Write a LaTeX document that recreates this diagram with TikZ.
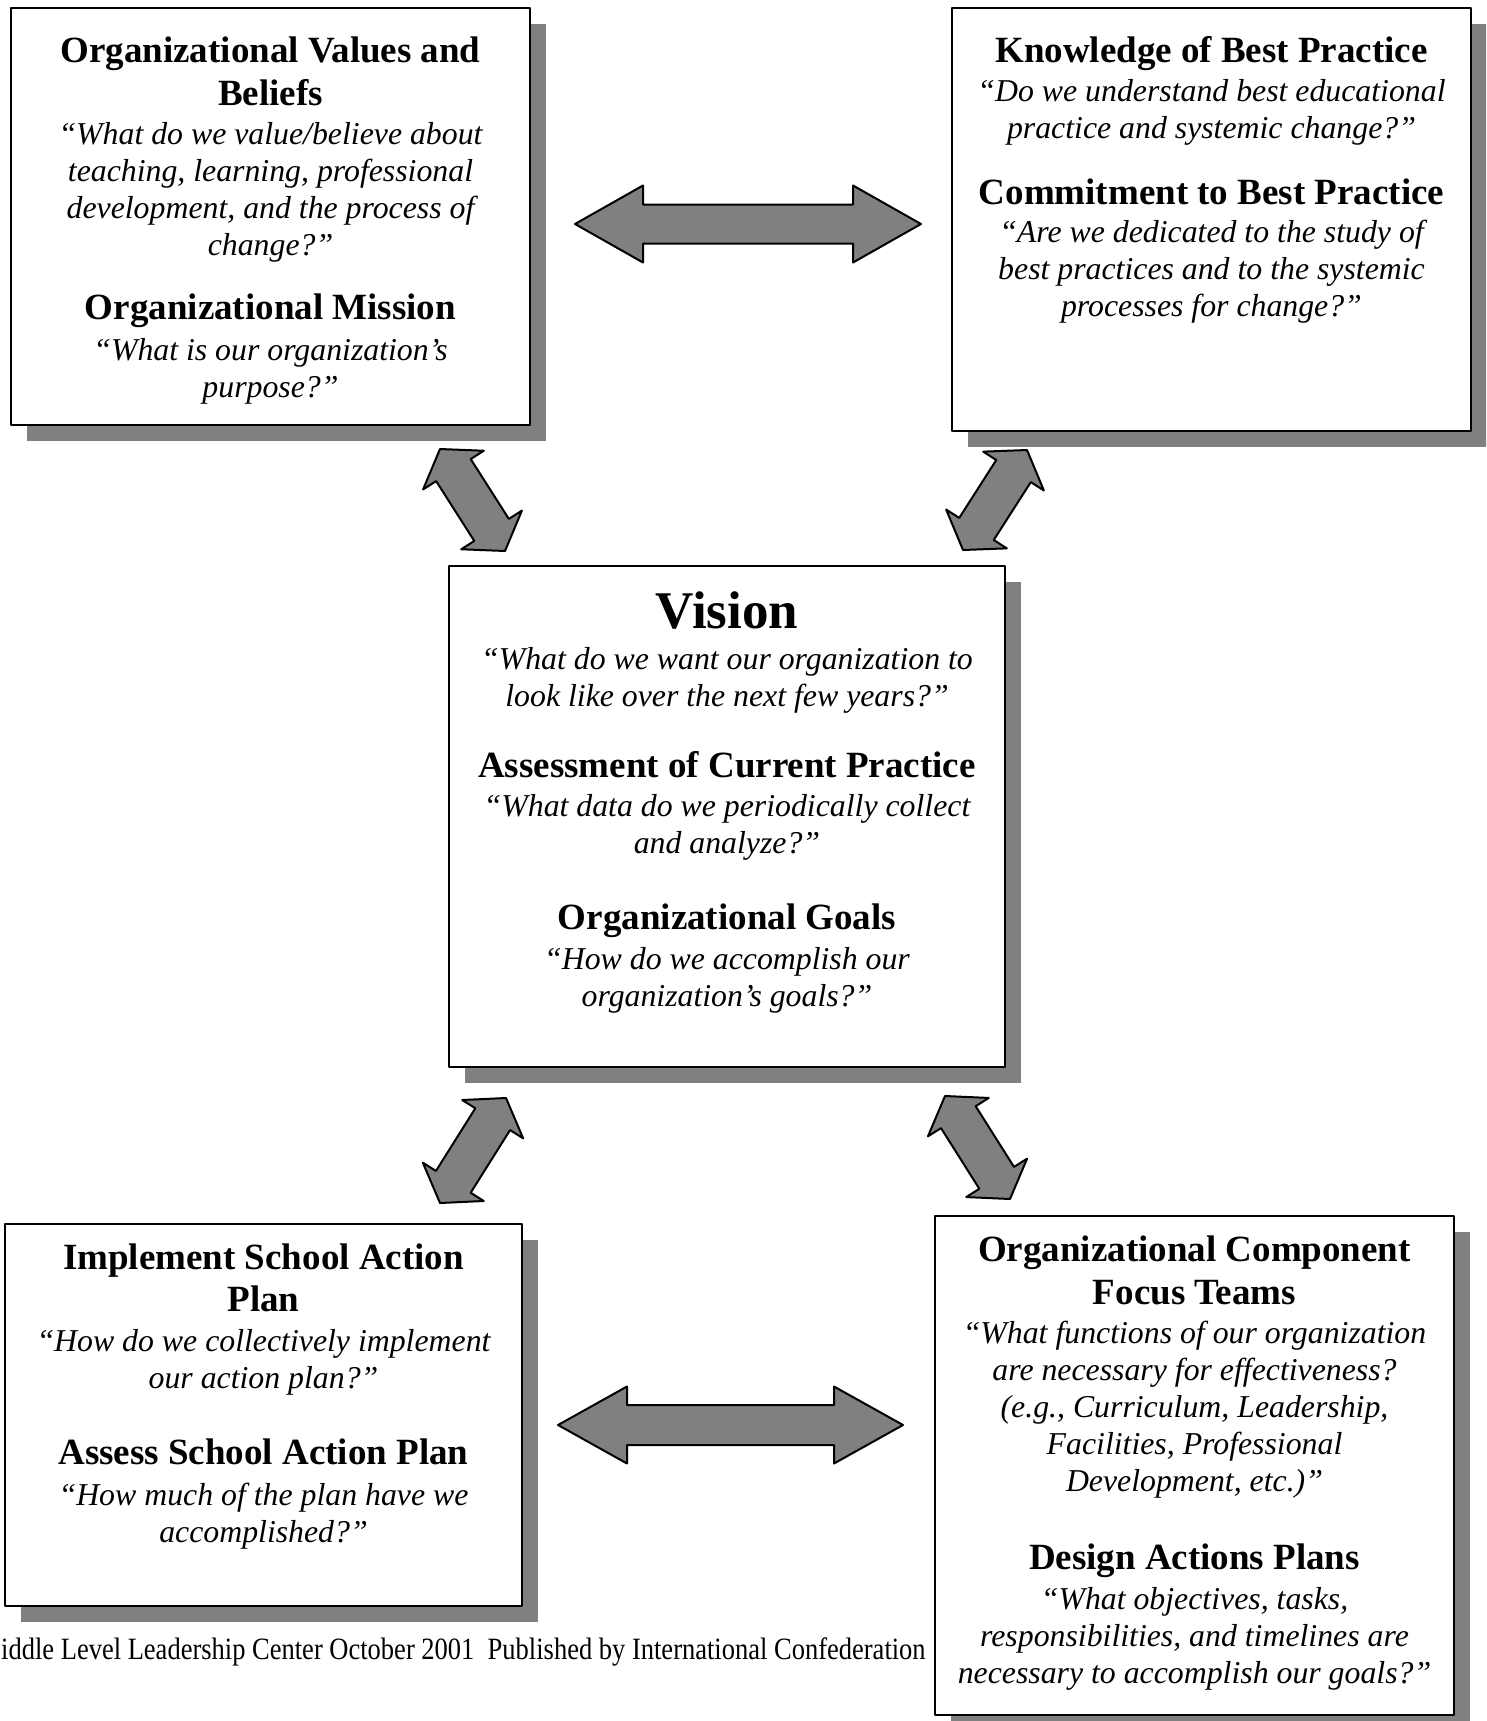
\documentclass[tikz,border=0pt]{standalone}
\usepackage{fontspec}
\setmainfont{Liberation Serif}
\usetikzlibrary{calc,shadows}

\definecolor{umbra}{HTML}{808080}

\newcommand{\hd}{\fontsize{37}{43}\selectfont\upshape\bfseries}
\newcommand{\qt}{\fontsize{31.8}{37}\selectfont\itshape}
\newcommand{\vis}{\fontsize{53}{60}\selectfont\upshape\bfseries}

% double block arrow: tip, tip, head length, head half width, shaft half width
\newcommand{\dblarrow}[5]{%
  \coordinate (#1h) at ($(#1)!#3!(#2)$);
  \coordinate (#2h) at ($(#2)!#3!(#1)$);
  \draw[blockarrow] (#1) -- ($(#1h)!#4!90:(#2)$) -- ($(#1h)!#5!90:(#2)$)
    -- ($(#2h)!#5!-90:(#1)$) -- ($(#2h)!#4!-90:(#1)$) -- (#2)
    -- ($(#2h)!#4!90:(#1)$) -- ($(#2h)!#5!90:(#1)$)
    -- ($(#1h)!#5!-90:(#2)$) -- ($(#1h)!#4!-90:(#2)$) -- cycle;
}

\begin{document}
\begin{tikzpicture}[x=1pt, y=-1pt, line join=round,
    box/.style={draw=black, line width=2pt, fill=white, inner sep=0pt,
      drop shadow={shadow xshift=16pt, shadow yshift=-16pt, fill=umbra, opacity=1}},
    blockarrow/.style={draw=black, line width=2pt, fill=umbra},
    txt/.style={anchor=north, align=center, inner sep=0pt, font=\qt}]

  \useasboundingbox (0,0) rectangle (1486,1721);
  \clip (0,0) rectangle (1486,1721);

  % --- FOOTER ---
  \node[anchor=base west, inner sep=0pt, xscale=0.855, font=\fontsize{31}{36}\selectfont]
    (credit) at (1,1659) {iddle Level Leadership Center October 2001\ \ Published by International Confederation};

  % --- BOXES ---
  \node[box, minimum width=519pt, minimum height=417pt] (values)    at (270.5,216.5) {};
  \node[box, minimum width=519pt, minimum height=423pt] (bestprac)  at (1211.5,219.5) {};
  \node[box, minimum width=556pt, minimum height=501pt] (vision)    at (727,816.5) {};
  \node[box, minimum width=517pt, minimum height=382pt] (implement) at (263.5,1415) {};
  \node[box, minimum width=519pt, minimum height=499pt] (focus)     at (1194.5,1465.5) {};

  % --- TEXTS ---
  \node[txt] (values-txt) at (values.center |- 0,37) {%
    {\hd Organizational Values and}\\[6pt]
    {\hd Beliefs}\\[2pt]
    “What do we value/believe about\\
    teaching, learning, professional\\
    development, and the process of\\
    change?”\\[27pt]
    {\hd Organizational Mission}\\[4pt]
    “What is our organization’s\\
    purpose?”};

  \node[txt] (bestprac-txt) at (bestprac.center |- 0,36) {%
    {\hd Knowledge of Best Practice}\\[2pt]
    “Do we understand best educational\\
    practice and systemic change?”\\[29pt]
    {\hd Commitment to Best Practice}\\[1pt]
    “Are we dedicated to the study of\\
    best practices and to the systemic\\
    processes for change?”};

  \node[txt] (vision-txt) at (vision.center |- 0,592) {%
    {\vis Vision}\\[4pt]
    “What do we want our organization to\\
    look like over the next few years?”\\[34pt]
    {\hd Assessment of Current Practice}\\[2pt]
    “What data do we periodically collect\\
    and analyze?”\\[39pt]
    {\hd Organizational Goals}\\[3pt]
    “How do we accomplish our\\
    organization’s goals?”};

  \node[txt] (implement-txt) at (implement.center |- 0,1244) {%
    {\hd Implement School Action}\\[5pt]
    {\hd Plan}\\[3pt]
    “How do we collectively implement\\
    our action plan?”\\[39pt]
    {\hd Assess School Action Plan}\\[4pt]
    “How much of the plan have we\\
    accomplished?”};

  \node[txt] (focus-txt) at (focus.center |- 0,1236) {%
    {\hd Organizational Component}\\[6pt]
    {\hd Focus Teams}\\[2pt]
    “What functions of our organization\\
    are necessary for effectiveness?\\
    (e.g., Curriculum, Leadership,\\
    Facilities, Professional\\
    Development, etc.)”\\[41pt]
    {\hd Design Actions Plans}\\[3pt]
    “What objectives, tasks,\\
    responsibilities, and timelines are\\
    necessary to accomplish our goals?”};

  % --- ARROWS ---
  \coordinate (ha) at (575,224);   \coordinate (hb) at (921,224);
  \dblarrow{ha}{hb}{68pt}{38.5pt}{19.5pt}
  \coordinate (la) at (558,1425);  \coordinate (lb) at (903,1425);
  \dblarrow{la}{lb}{69pt}{38.5pt}{20pt}

  \coordinate (da) at (440,449);   \coordinate (db) at (505,551);
  \dblarrow{da}{db}{25pt}{36pt}{20.5pt}
  \coordinate (ea) at (1027,450);  \coordinate (eb) at (963,550);
  \dblarrow{ea}{eb}{25pt}{36pt}{20.5pt}
  \coordinate (fa) at (506,1098);  \coordinate (fb) at (440,1203);
  \dblarrow{fa}{fb}{25pt}{36pt}{20.5pt}
  \coordinate (ga) at (945,1096);  \coordinate (gb) at (1010,1199);
  \dblarrow{ga}{gb}{25pt}{36pt}{20.5pt}

\end{tikzpicture}
\end{document}
